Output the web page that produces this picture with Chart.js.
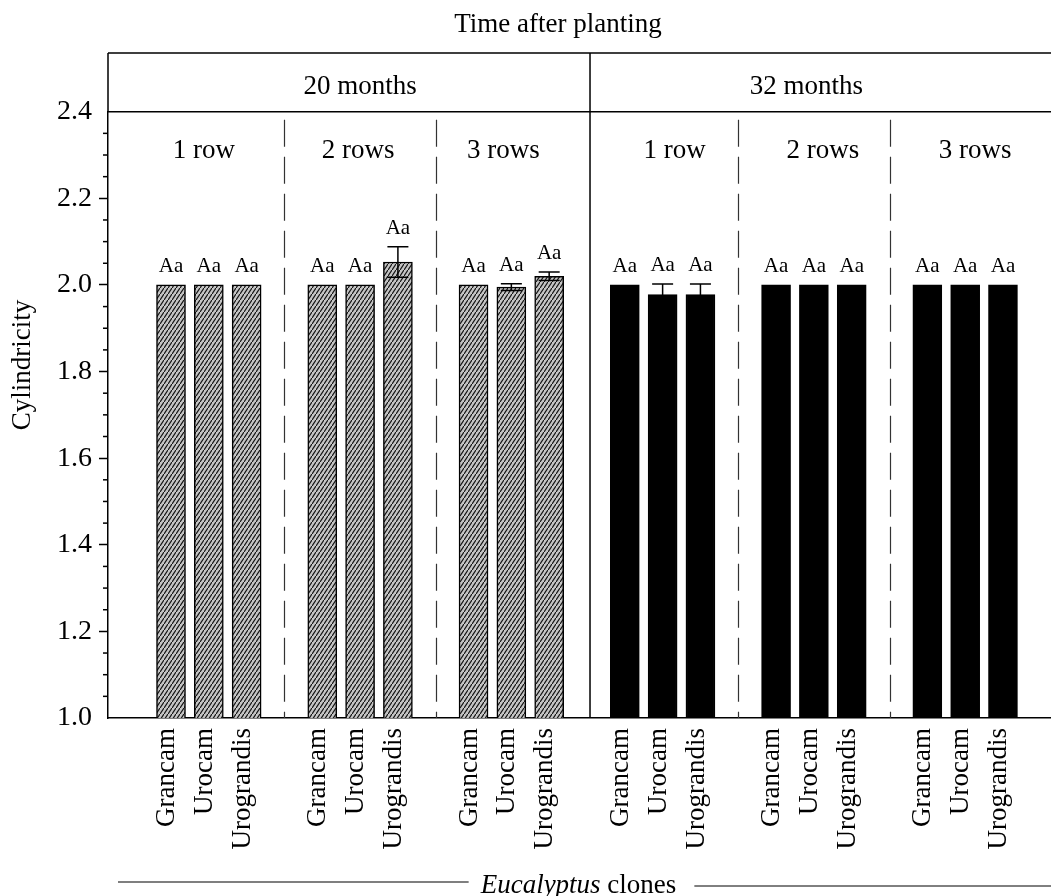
<!DOCTYPE html>
<html>
<head>
<meta charset="utf-8">
<title>Cylindricity</title>
<script src="https://cdn.jsdelivr.net/npm/chart.js@4.4.1/dist/chart.umd.min.js"></script>
<style>
  html, body { margin: 0; padding: 0; background: #fff; }
  canvas { display: block; }
</style>
</head>
<body>
<canvas id="chart" width="1051" height="896"></canvas>
<script>
const periods = ["20 months", "32 months"];
const rowLabels = ["1 row", "2 rows", "3 rows"];
const clones = ["Grancam", "Urocam", "Urograndis"];

// means, ordered 1 row / 2 rows / 3 rows, each Grancam, Urocam, Urograndis
const cyl20 = [2.0, 2.0, 2.0, 2.0, 2.0, 2.053, 2.0, 1.995, 2.02];
const err20 = [0, 0, 0, 0, 0, 0.035, 0, 0.008, 0.01];
const cyl32 = [2.0, 1.978, 1.978, 2.0, 2.0, 2.0, 2.0, 2.0, 2.0];
const err32 = [0, 0.024, 0.024, 0, 0, 0, 0, 0, 0];
const letters20 = ["Aa", "Aa", "Aa", "Aa", "Aa", "Aa", "Aa", "Aa", "Aa"];
const letters32 = ["Aa", "Aa", "Aa", "Aa", "Aa", "Aa", "Aa", "Aa", "Aa"];
const yTicks = [1.0, 1.2, 1.4, 1.6, 1.8, 2.0, 2.2, 2.4];

const SERIF = '"Liberation Serif", "Times New Roman", serif';

// slot on the x axis: 3 bars per row group, one empty slot between groups
const slotOf = (p, i) => p * 12 + Math.floor(i / 3) * 4 + (i % 3);
const tickSlots = [];
const tickLabels = [];
for (let p = 0; p < periods.length; p++) {
  for (let i = 0; i < 9; i++) {
    tickSlots.push(slotOf(p, i));
    tickLabels.push(clones[i % 3]);
  }
}

// gray fill with diagonal hatching
const tile = document.createElement("canvas");
tile.width = 4;
tile.height = 6;
const tctx = tile.getContext("2d");
tctx.fillStyle = "#c4c4c4";
tctx.fillRect(0, 0, 4, 6);
tctx.strokeStyle = "#111";
tctx.lineWidth = 1.2;
tctx.beginPath();
tctx.moveTo(-4, 12);
tctx.lineTo(8, -6);
tctx.stroke();
const hatch = tctx.createPattern(tile, "repeat");

const decorations = {
  id: "decorations",
  afterDraw(chart) {
    const { ctx, chartArea: a, scales: { x, y } } = chart;
    const boxTop = 53;
    ctx.save();

    // header box and the solid divider between the two ages
    ctx.strokeStyle = "#000";
    ctx.lineWidth = 1.5;
    ctx.beginPath();
    ctx.moveTo(a.left, boxTop);
    ctx.lineTo(a.right, boxTop);
    ctx.moveTo(a.left, a.top);
    ctx.lineTo(a.right, a.top);
    ctx.moveTo(a.left, boxTop);
    ctx.lineTo(a.left, a.top);
    const mid = x.getPixelForValue(11.08);
    ctx.moveTo(mid, boxTop);
    ctx.lineTo(mid, a.bottom);
    ctx.stroke();

    // dashed separators between row groups
    ctx.strokeStyle = "#333";
    ctx.lineWidth = 1.2;
    ctx.setLineDash([27, 10]);
    [3, 7, 15, 19].forEach((s) => {
      const px = Math.round(x.getPixelForValue(s)) + 0.5;
      ctx.beginPath();
      ctx.moveTo(px, a.top + 8);
      ctx.lineTo(px, a.bottom);
      ctx.stroke();
    });
    ctx.setLineDash([]);

    // minor ticks on y
    ctx.strokeStyle = "#000";
    ctx.lineWidth = 1.5;
    for (let k = 1; k < 28; k++) {
      if (k % 4 === 0) continue;
      const py = y.getPixelForValue(1 + k * 0.05);
      ctx.beginPath();
      ctx.moveTo(a.left - 5, py);
      ctx.lineTo(a.left, py);
      ctx.stroke();
    }

    // error bars and letters
    const errs = [err20, err32];
    const vals = [cyl20, cyl32];
    const lets = [letters20, letters32];
    ctx.fillStyle = "#000";
    ctx.textAlign = "center";
    ctx.textBaseline = "alphabetic";
    ctx.font = `21px ${SERIF}`;
    chart.data.datasets.forEach((ds, d) => {
      chart.getDatasetMeta(d).data.forEach((bar, i) => {
        const e = errs[d][i];
        const v = vals[d][i];
        let top = y.getPixelForValue(v);
        if (e > 0) {
          const hi = y.getPixelForValue(v + e);
          const lo = y.getPixelForValue(v - e);
          ctx.beginPath();
          ctx.moveTo(bar.x, hi);
          ctx.lineTo(bar.x, lo);
          ctx.moveTo(bar.x - 10.5, hi);
          ctx.lineTo(bar.x + 10.5, hi);
          ctx.moveTo(bar.x - 10.5, lo);
          ctx.lineTo(bar.x + 10.5, lo);
          ctx.stroke();
          top = hi;
        }
        ctx.fillText(lets[d][i], bar.x, top - 13);
      });
    });

    // titles
    ctx.font = `27px ${SERIF}`;
    ctx.fillText("Time after planting", 558, 32);
    ctx.fillText(periods[0], x.getPixelForValue(5), 94);
    ctx.fillText(periods[1], x.getPixelForValue(16.8), 94);
    const rowShift = [-5, -2, -8, 12, 9, 10];
    for (let g = 0; g < 6; g++) {
      const cx = x.getPixelForValue(g * 4 + 1) + rowShift[g];
      ctx.fillText(rowLabels[g % 3], cx, 158);
    }

    // y axis title
    ctx.save();
    ctx.translate(23, 365);
    ctx.rotate(-Math.PI / 2);
    ctx.textBaseline = "middle";
    ctx.fillText("Cylindricity", 0, 0);
    ctx.restore();

    // bottom caption with rules either side
    ctx.textAlign = "left";
    ctx.font = `italic 27px ${SERIF}`;
    const w1 = ctx.measureText("Eucalyptus").width;
    ctx.font = `27px ${SERIF}`;
    const w2 = ctx.measureText(" clones").width;
    const start = 578.5 - (w1 + w2) / 2;
    ctx.font = `italic 27px ${SERIF}`;
    ctx.fillText("Eucalyptus", start, 893);
    ctx.font = `27px ${SERIF}`;
    ctx.fillText(" clones", start + w1, 893);
    ctx.strokeStyle = "#555";
    ctx.lineWidth = 1.5;
    ctx.beginPath();
    ctx.moveTo(118, 882);
    ctx.lineTo(start - 12, 882);
    ctx.stroke();
    ctx.strokeStyle = "#000";
    ctx.lineWidth = 1;
    ctx.beginPath();
    ctx.moveTo(start + w1 + w2 + 18, 886);
    ctx.lineTo(chart.width, 886);
    ctx.stroke();

    ctx.restore();
  },
};

new Chart(document.getElementById("chart"), {
  type: "bar",
  data: {
    datasets: [
      {
        label: periods[0],
        data: cyl20.map((v, i) => ({ x: slotOf(0, i), y: v })),
        backgroundColor: hatch,
        borderColor: "#000",
        borderWidth: 1.5,
        barThickness: 29,
        grouped: false,
      },
      {
        label: periods[1],
        data: cyl32.map((v, i) => ({ x: slotOf(1, i), y: v })),
        backgroundColor: "#000",
        borderColor: "#000",
        borderWidth: 1.5,
        barThickness: 29,
        grouped: false,
      },
    ],
  },
  options: {
    responsive: false,
    animation: false,
    layout: { padding: { top: 111.7, right: 0, bottom: 0, left: 0 } },
    plugins: {
      legend: { display: false },
      tooltip: { enabled: false },
    },
    scales: {
      x: {
        type: "linear",
        min: -1.666,
        max: 23.27,
        offset: false,
        afterBuildTicks: (s) => {
          s.ticks = tickSlots.map((v) => ({ value: v }));
        },
        afterFit: (s) => {
          s.height = 178;
        },
        ticks: {
          autoSkip: false,
          minRotation: 90,
          maxRotation: 90,
          padding: 10,
          labelOffset: -4,
          color: "#000",
          font: { family: SERIF, size: 27 },
          callback: (v, i) => tickLabels[i],
        },
        grid: { display: false, drawTicks: false },
        border: { display: true, color: "#000", width: 1.5 },
      },
      y: {
        min: 1.0,
        max: 2.4,
        afterBuildTicks: (s) => {
          s.ticks = yTicks.map((v) => ({ value: v }));
        },
        afterFit: (s) => {
          s.width = 108;
        },
        ticks: {
          padding: 7,
          color: "#000",
          font: { family: SERIF, size: 28 },
          callback: (v) => Number(v).toFixed(1),
        },
        grid: {
          drawOnChartArea: false,
          drawTicks: true,
          tickLength: 9,
          tickWidth: 1.5,
          tickColor: (c) =>
            c.tick && (Math.abs(c.tick.value - 1) < 1e-6 || Math.abs(c.tick.value - 2.4) < 1e-6)
              ? "rgba(0,0,0,0)"
              : "#000",
        },
        border: { display: true, color: "#000", width: 1.5 },
      },
    },
  },
  plugins: [decorations],
});
</script>
</body>
</html>
